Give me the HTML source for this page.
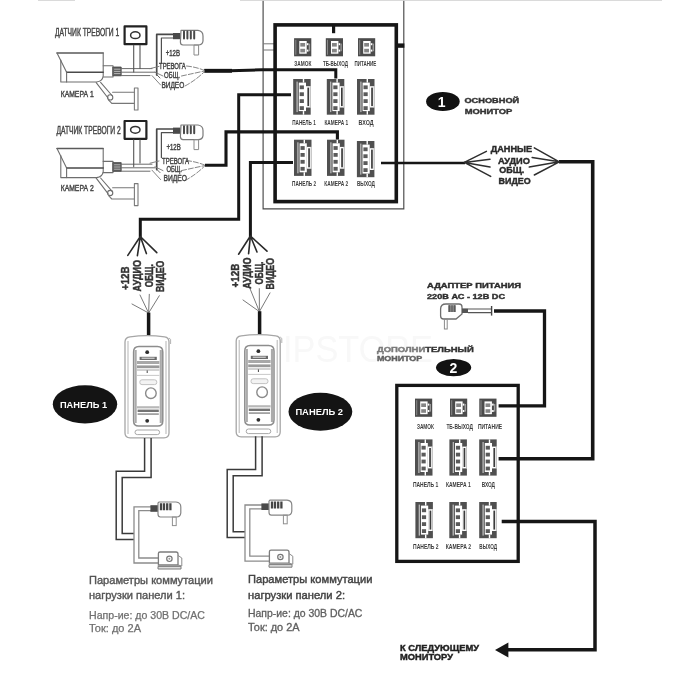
<!DOCTYPE html>
<html lang="ru"><head><meta charset="utf-8"><title>Схема подключения</title>
<style>html,body{margin:0;padding:0;background:#fff}body{width:700px;height:700px;overflow:hidden}svg{display:block;font-family:"Liberation Sans",sans-serif;filter:blur(0.55px)}</style></head><body>
<svg width="700" height="700" viewBox="0 0 700 700">
<rect width="700" height="700" fill="#fff"/>
<text x="283" y="362" font-size="36" font-weight="normal" fill="#f8f8f8" text-anchor="start" textLength="150" lengthAdjust="spacingAndGlyphs">IPSTORE</text>
<path d="M263.1 0 V208.8 H403.8 V0" fill="none" stroke="#484848" stroke-width="1.15"/>
<path d="M240 0.4 H662 M38 0.4 H75" stroke="#d6d6d6" stroke-width="1"/>
<path d="M263.1 43.8 H275 M263.1 50 H275" stroke="#777" stroke-width="1"/>
<rect x="275.1" y="24.9" width="121.2" height="176.7" fill="none" stroke="#161616" stroke-width="3.6"/>
<path d="M333.6 25 V33.2" stroke="#161616" stroke-width="3.2"/>
<path d="M396 45.6 H404.4" stroke="#161616" stroke-width="4.4"/>
<g transform="translate(294.1,38.2)">
<rect x="0" y="0" width="17.2" height="18.1" fill="#4b4b4b"/>
<rect x="1.2" y="1.6" width="1" height="14.9" fill="#8a8a8a"/>
<rect x="5.2" y="2.8" width="7.4" height="12.7" fill="#fff"/>
<rect x="6.2" y="4.8" width="4.8" height="3.6" fill="#858585"/>
<rect x="6.2" y="10.6" width="4.8" height="3.6" fill="#858585"/>
<rect x="12.8" y="5" width="1.6" height="2" fill="#fff"/>
<rect x="12.8" y="11.4" width="1.6" height="2" fill="#fff"/>
<rect x="14.6" y="5.4" width="1.4" height="7.6" fill="#9a9a9a"/>
</g>
<g transform="translate(325.8,38.2)">
<rect x="0" y="0" width="17.2" height="18.1" fill="#4b4b4b"/>
<rect x="1.2" y="1.6" width="1" height="14.9" fill="#8a8a8a"/>
<rect x="5.2" y="2.8" width="7.4" height="12.7" fill="#fff"/>
<rect x="6.2" y="4.8" width="4.8" height="3.6" fill="#858585"/>
<rect x="6.2" y="10.6" width="4.8" height="3.6" fill="#858585"/>
<rect x="12.8" y="5" width="1.6" height="2" fill="#fff"/>
<rect x="12.8" y="11.4" width="1.6" height="2" fill="#fff"/>
<rect x="14.6" y="5.4" width="1.4" height="7.6" fill="#9a9a9a"/>
</g>
<g transform="translate(358,38.2)">
<rect x="0" y="0" width="17.2" height="18.1" fill="#4b4b4b"/>
<rect x="1.2" y="1.6" width="1" height="14.9" fill="#8a8a8a"/>
<rect x="5.2" y="2.8" width="7.4" height="12.7" fill="#fff"/>
<rect x="6.2" y="4.8" width="4.8" height="3.6" fill="#858585"/>
<rect x="6.2" y="10.6" width="4.8" height="3.6" fill="#858585"/>
<rect x="12.8" y="5" width="1.6" height="2" fill="#fff"/>
<rect x="12.8" y="11.4" width="1.6" height="2" fill="#fff"/>
<rect x="14.6" y="5.4" width="1.4" height="7.6" fill="#9a9a9a"/>
</g>
<g transform="translate(293.2,79)">
<rect x="0" y="0" width="17.5" height="35.7" fill="#505050"/>
<rect x="3.3" y="2.6" width="1.2" height="30.5" fill="#c4c4c4"/>
<rect x="5.6" y="3.6" width="7.2" height="28.5" fill="#fff"/>
<rect x="6.5" y="6.4" width="4.2" height="3.8" fill="#5a5a5a"/>
<rect x="6.5" y="13.3" width="4.2" height="3.8" fill="#5a5a5a"/>
<rect x="6.5" y="20.2" width="4.2" height="3.8" fill="#5a5a5a"/>
<rect x="6.5" y="27.2" width="4.2" height="3.8" fill="#5a5a5a"/>
<rect x="9.6" y="0" width="1.4" height="3.6" fill="#fff"/>
<rect x="9.6" y="32.1" width="1.4" height="3.6" fill="#fff"/>
<rect x="12.8" y="7.2" width="4.7" height="21.3" fill="#fff"/>
<rect x="14.2" y="8.6" width="1.7" height="18.5" fill="#3c3c3c"/>
<rect x="16.6" y="7.2" width="0.9" height="21.3" fill="#bdbdbd"/>
</g>
<g transform="translate(326.8,79)">
<rect x="0" y="0" width="17.5" height="35.7" fill="#505050"/>
<rect x="3.3" y="2.6" width="1.2" height="30.5" fill="#c4c4c4"/>
<rect x="5.6" y="3.6" width="7.2" height="28.5" fill="#fff"/>
<rect x="6.5" y="6.4" width="4.2" height="3.8" fill="#5a5a5a"/>
<rect x="6.5" y="13.3" width="4.2" height="3.8" fill="#5a5a5a"/>
<rect x="6.5" y="20.2" width="4.2" height="3.8" fill="#5a5a5a"/>
<rect x="6.5" y="27.2" width="4.2" height="3.8" fill="#5a5a5a"/>
<rect x="9.6" y="0" width="1.4" height="3.6" fill="#fff"/>
<rect x="9.6" y="32.1" width="1.4" height="3.6" fill="#fff"/>
<rect x="12.8" y="7.2" width="4.7" height="21.3" fill="#fff"/>
<rect x="14.2" y="8.6" width="1.7" height="18.5" fill="#3c3c3c"/>
<rect x="16.6" y="7.2" width="0.9" height="21.3" fill="#bdbdbd"/>
</g>
<g transform="translate(357,79)">
<rect x="0" y="0" width="17.5" height="35.7" fill="#505050"/>
<rect x="3.3" y="2.6" width="1.2" height="30.5" fill="#c4c4c4"/>
<rect x="5.6" y="3.6" width="7.2" height="28.5" fill="#fff"/>
<rect x="6.5" y="6.4" width="4.2" height="3.8" fill="#5a5a5a"/>
<rect x="6.5" y="13.3" width="4.2" height="3.8" fill="#5a5a5a"/>
<rect x="6.5" y="20.2" width="4.2" height="3.8" fill="#5a5a5a"/>
<rect x="6.5" y="27.2" width="4.2" height="3.8" fill="#5a5a5a"/>
<rect x="9.6" y="0" width="1.4" height="3.6" fill="#fff"/>
<rect x="9.6" y="32.1" width="1.4" height="3.6" fill="#fff"/>
<rect x="12.8" y="7.2" width="4.7" height="21.3" fill="#fff"/>
<rect x="14.2" y="8.6" width="1.7" height="18.5" fill="#3c3c3c"/>
<rect x="16.6" y="7.2" width="0.9" height="21.3" fill="#bdbdbd"/>
</g>
<g transform="translate(294,139.7)">
<rect x="0" y="0" width="17.5" height="36.2" fill="#505050"/>
<rect x="3.3" y="2.6" width="1.2" height="31" fill="#c4c4c4"/>
<rect x="5.6" y="3.6" width="7.2" height="29" fill="#fff"/>
<rect x="6.5" y="6.4" width="4.2" height="3.8" fill="#5a5a5a"/>
<rect x="6.5" y="13.3" width="4.2" height="3.8" fill="#5a5a5a"/>
<rect x="6.5" y="20.2" width="4.2" height="3.8" fill="#5a5a5a"/>
<rect x="6.5" y="27.2" width="4.2" height="3.8" fill="#5a5a5a"/>
<rect x="9.6" y="0" width="1.4" height="3.6" fill="#fff"/>
<rect x="9.6" y="32.6" width="1.4" height="3.6" fill="#fff"/>
<rect x="12.8" y="7.2" width="4.7" height="21.8" fill="#fff"/>
<rect x="14.2" y="8.6" width="1.7" height="19" fill="#3c3c3c"/>
<rect x="16.6" y="7.2" width="0.9" height="21.8" fill="#bdbdbd"/>
</g>
<g transform="translate(327,139.7)">
<rect x="0" y="0" width="17.5" height="36.2" fill="#505050"/>
<rect x="3.3" y="2.6" width="1.2" height="31" fill="#c4c4c4"/>
<rect x="5.6" y="3.6" width="7.2" height="29" fill="#fff"/>
<rect x="6.5" y="6.4" width="4.2" height="3.8" fill="#5a5a5a"/>
<rect x="6.5" y="13.3" width="4.2" height="3.8" fill="#5a5a5a"/>
<rect x="6.5" y="20.2" width="4.2" height="3.8" fill="#5a5a5a"/>
<rect x="6.5" y="27.2" width="4.2" height="3.8" fill="#5a5a5a"/>
<rect x="9.6" y="0" width="1.4" height="3.6" fill="#fff"/>
<rect x="9.6" y="32.6" width="1.4" height="3.6" fill="#fff"/>
<rect x="12.8" y="7.2" width="4.7" height="21.8" fill="#fff"/>
<rect x="14.2" y="8.6" width="1.7" height="19" fill="#3c3c3c"/>
<rect x="16.6" y="7.2" width="0.9" height="21.8" fill="#bdbdbd"/>
</g>
<g transform="translate(356.9,141)">
<rect x="0" y="0" width="17.5" height="36.2" fill="#505050"/>
<rect x="3.3" y="2.6" width="1.2" height="31" fill="#c4c4c4"/>
<rect x="5.6" y="3.6" width="7.2" height="29" fill="#fff"/>
<rect x="6.5" y="6.4" width="4.2" height="3.8" fill="#5a5a5a"/>
<rect x="6.5" y="13.3" width="4.2" height="3.8" fill="#5a5a5a"/>
<rect x="6.5" y="20.2" width="4.2" height="3.8" fill="#5a5a5a"/>
<rect x="6.5" y="27.2" width="4.2" height="3.8" fill="#5a5a5a"/>
<rect x="9.6" y="0" width="1.4" height="3.6" fill="#fff"/>
<rect x="9.6" y="32.6" width="1.4" height="3.6" fill="#fff"/>
<rect x="12.8" y="7.2" width="4.7" height="21.8" fill="#fff"/>
<rect x="14.2" y="8.6" width="1.7" height="19" fill="#3c3c3c"/>
<rect x="16.6" y="7.2" width="0.9" height="21.8" fill="#bdbdbd"/>
</g>
<text x="294.3" y="65.7" font-size="8" font-weight="bold" fill="#3c3c3c" text-anchor="start" textLength="17.1" lengthAdjust="spacingAndGlyphs">ЗАМОК</text>
<text x="322.9" y="65.7" font-size="8" font-weight="bold" fill="#3c3c3c" text-anchor="start" textLength="25.0" lengthAdjust="spacingAndGlyphs">ТБ-ВЫХОД</text>
<text x="354.6" y="65.7" font-size="8" font-weight="bold" fill="#3c3c3c" text-anchor="start" textLength="21.8" lengthAdjust="spacingAndGlyphs">ПИТАНИЕ</text>
<text x="292.3" y="125.2" font-size="8" font-weight="bold" fill="#3c3c3c" text-anchor="start" textLength="23.5" lengthAdjust="spacingAndGlyphs">ПАНЕЛЬ 1</text>
<text x="324.4" y="125.2" font-size="8" font-weight="bold" fill="#3c3c3c" text-anchor="start" textLength="23.8" lengthAdjust="spacingAndGlyphs">КАМЕРА 1</text>
<text x="358.6" y="125.1" font-size="8" font-weight="bold" fill="#3c3c3c" text-anchor="start" textLength="15.0" lengthAdjust="spacingAndGlyphs">ВХОД</text>
<text x="292.1" y="186.2" font-size="8" font-weight="bold" fill="#3c3c3c" text-anchor="start" textLength="23.9" lengthAdjust="spacingAndGlyphs">ПАНЕЛЬ 2</text>
<text x="324.3" y="186.2" font-size="8" font-weight="bold" fill="#3c3c3c" text-anchor="start" textLength="23.9" lengthAdjust="spacingAndGlyphs">КАМЕРА 2</text>
<text x="356.9" y="186.4" font-size="8" font-weight="bold" fill="#3c3c3c" text-anchor="start" textLength="18.1" lengthAdjust="spacingAndGlyphs">ВЫХОД</text>
<path d="M204.3 70.8 H230 L262 69.8 H335.8 V78.6" fill="none" stroke="#161616" stroke-linejoin="miter" stroke-width="3.0"/>
<path d="M204.3 70.8 H232" fill="none" stroke="#161616" stroke-linejoin="miter" stroke-width="3.9"/>
<path d="M205 165.2 H226 V131.9 H337.4 V139.6" fill="none" stroke="#161616" stroke-linejoin="miter" stroke-width="3.1"/>
<path d="M291 94.8 H238.7 V219.2 H140.3 V237" fill="none" stroke="#161616" stroke-linejoin="miter" stroke-width="3.0"/>
<path d="M293 162.5 H250.4 V237" fill="none" stroke="#161616" stroke-linejoin="miter" stroke-width="3.0"/>
<path d="M381 163 H465" fill="none" stroke="#161616" stroke-linejoin="miter" stroke-width="2.6"/>
<path d="M559 161.8 H592.7 V458.8 H498.6" fill="none" stroke="#161616" stroke-linejoin="miter" stroke-width="3.6"/>
<path d="M494 311 H544.5 V405.8 H498.6" fill="none" stroke="#161616" stroke-linejoin="miter" stroke-width="3.3"/>
<path d="M501.7 521.4 H595 V649.8 H506" fill="none" stroke="#161616" stroke-linejoin="miter" stroke-width="3.5"/>
<path d="M495 650 L508.4 642.6 V657.4 Z" fill="#161616"/>
<path d="M140.3 236.5 L127.8 255.4 M140.3 236.5 L137.4 255.6 M140.3 236.5 L146.4 253.6 M140.3 236.5 L156.8 252.6" stroke="#2a2a2a" stroke-width="1.6" fill="none" stroke-linecap="round"/>
<path d="M250.4 236 L238.6 254.2 M250.4 236 L248.6 253.6 M250.4 236 L257 252 M250.4 236 L267 251.2" stroke="#2a2a2a" stroke-width="1.6" fill="none" stroke-linecap="round"/>
<path d="M148.6 313 L132 304 M148.6 313 L140 295 M148.6 313 L149.3 294.3 M148.6 313 L159.3 295.7" stroke="#7a7a7a" stroke-width="1" fill="none" stroke-linecap="round"/>
<path d="M259.4 311.6 L243 300 M259.4 311.6 L250 288.6 M259.4 311.6 L259.3 288.6 M259.4 311.6 L270 292.9" stroke="#7a7a7a" stroke-width="1" fill="none" stroke-linecap="round"/>
<path d="M148.6 312.6 V336.5" fill="none" stroke="#161616" stroke-linejoin="miter" stroke-width="3.5"/>
<path d="M259.6 311.2 V335.5" fill="none" stroke="#161616" stroke-linejoin="miter" stroke-width="3.5"/>
<text transform="translate(129.2,290) rotate(-90)" font-size="10.5" font-weight="bold" fill="#333" stroke="#333" stroke-width="0.45" textLength="23.6" lengthAdjust="spacingAndGlyphs">+12В</text>
<text transform="translate(140.6,291.4) rotate(-90)" font-size="10.5" font-weight="bold" fill="#333" stroke="#333" stroke-width="0.45" textLength="31.4" lengthAdjust="spacingAndGlyphs">АУДИО</text>
<text transform="translate(152.8,287.2) rotate(-90)" font-size="10.5" font-weight="bold" fill="#333" stroke="#333" stroke-width="0.45" textLength="23" lengthAdjust="spacingAndGlyphs">ОБЩ.</text>
<text transform="translate(164.4,292) rotate(-90)" font-size="10.5" font-weight="bold" fill="#333" stroke="#333" stroke-width="0.45" textLength="31.3" lengthAdjust="spacingAndGlyphs">ВИДЕО</text>
<text transform="translate(239.2,287.4) rotate(-90)" font-size="10.5" font-weight="bold" fill="#333" stroke="#333" stroke-width="0.45" textLength="23.6" lengthAdjust="spacingAndGlyphs">+12В</text>
<text transform="translate(250.6,288.8) rotate(-90)" font-size="10.5" font-weight="bold" fill="#333" stroke="#333" stroke-width="0.45" textLength="31.4" lengthAdjust="spacingAndGlyphs">АУДИО</text>
<text transform="translate(262.8,284.6) rotate(-90)" font-size="10.5" font-weight="bold" fill="#333" stroke="#333" stroke-width="0.45" textLength="23" lengthAdjust="spacingAndGlyphs">ОБЩ.</text>
<text transform="translate(274.4,289.4) rotate(-90)" font-size="10.5" font-weight="bold" fill="#333" stroke="#333" stroke-width="0.45" textLength="31.3" lengthAdjust="spacingAndGlyphs">ВИДЕО</text>
<path d="M464.3 162.4 L486.4 151.4 M464.3 162.4 L490 159.3 M464.3 162.4 L490 167.1 M464.3 162.4 L490.7 176.4" stroke="#2e2e2e" stroke-width="1.5" fill="none" stroke-linecap="round"/>
<path d="M559.3 161.8 L534.3 147.9 M559.3 161.8 L532.1 157.4 M559.3 161.8 L529.3 167.1 M559.3 161.8 L534.3 175" stroke="#2e2e2e" stroke-width="1.5" fill="none" stroke-linecap="round"/>
<text x="490.7" y="151.5" font-size="8.4" font-weight="bold" fill="#2a2a2a" text-anchor="start" textLength="41.4" lengthAdjust="spacingAndGlyphs" stroke="#2a2a2a" stroke-width="0.4">ДАННЫЕ</text>
<text x="497.9" y="163.7" font-size="8.4" font-weight="bold" fill="#2a2a2a" text-anchor="start" textLength="32.1" lengthAdjust="spacingAndGlyphs" stroke="#2a2a2a" stroke-width="0.4">АУДИО</text>
<text x="499.3" y="173" font-size="8.4" font-weight="bold" fill="#2a2a2a" text-anchor="start" textLength="25" lengthAdjust="spacingAndGlyphs" stroke="#2a2a2a" stroke-width="0.4">ОБЩ.</text>
<text x="498.6" y="183.7" font-size="8.4" font-weight="bold" fill="#2a2a2a" text-anchor="start" textLength="32.1" lengthAdjust="spacingAndGlyphs" stroke="#2a2a2a" stroke-width="0.4">ВИДЕО</text>
<ellipse cx="442.9" cy="101.5" rx="16.8" ry="9.5" fill="#121212"/>
<text x="441.6" y="106.6" font-size="14" font-weight="bold" fill="#fff" text-anchor="middle">1</text>
<text x="464.4" y="103.2" font-size="7.8" font-weight="bold" fill="#333" text-anchor="start" textLength="54.8" lengthAdjust="spacingAndGlyphs" stroke="#333" stroke-width="0.4">ОСНОВНОЙ</text>
<text x="464.7" y="114.3" font-size="7.8" font-weight="bold" fill="#333" text-anchor="start" textLength="47.7" lengthAdjust="spacingAndGlyphs" stroke="#333" stroke-width="0.4">МОНИТОР</text>
<text x="427" y="288.2" font-size="7.6" font-weight="bold" fill="#2e2e2e" text-anchor="start" textLength="94" lengthAdjust="spacingAndGlyphs" stroke="#2e2e2e" stroke-width="0.4">АДАПТЕР  ПИТАНИЯ</text>
<text x="427" y="298.8" font-size="7.6" font-weight="bold" fill="#2e2e2e" text-anchor="start" textLength="78" lengthAdjust="spacingAndGlyphs" stroke="#2e2e2e" stroke-width="0.4">220В АС - 12В DC</text>
<g fill="none">
<path d="M446 304 H459 Q462 304 462 307 V314 L456 319 H443.6 Q440.6 319 440.6 316 V309 Q440.6 304 446 304 Z" stroke="#6e6e6e" stroke-width="1.3" fill="#fff"/>
<rect x="448" y="305.2" width="8" height="6.8" fill="#8a8a8a"/>
<path d="M449.6 305.2 V312 M452 305.2 V312 M454.4 305.2 V312" stroke="#555" stroke-width="1"/>
<rect x="444.4" y="319" width="2.8" height="10" stroke="#8a8a8a" stroke-width="1"/>
<rect x="462" y="308.4" width="6" height="4.6" fill="#555"/>
<path d="M468 309 H492 M468 312.6 H492" stroke="#555" stroke-width="1.1"/>
<path d="M491.6 306 V315.6" stroke="#444" stroke-width="1.4"/>
</g>
<text x="376.9" y="352.2" font-size="7.8" font-weight="bold" fill="#505050" text-anchor="start" textLength="96.8" lengthAdjust="spacingAndGlyphs" stroke="#505050" stroke-width="0.4"><tspan fill="#7a7a7a" stroke="#7a7a7a">ДОПОЛНИ</tspan><tspan fill="#333" stroke="#333">ТЕЛЬНЫЙ</tspan></text>
<text x="376.9" y="360.8" font-size="7.8" font-weight="bold" fill="#606060" text-anchor="start" textLength="45.4" lengthAdjust="spacingAndGlyphs" stroke="#606060" stroke-width="0.4">МОНИТОР</text>
<ellipse cx="453.6" cy="367.6" rx="17.6" ry="8.7" fill="#121212"/>
<text x="453.4" y="372.6" font-size="14" font-weight="bold" fill="#fff" text-anchor="middle">2</text>
<rect x="396.8" y="385.4" width="121.4" height="176" fill="none" stroke="#161616" stroke-width="3.3"/>
<g transform="translate(415,398.6)">
<rect x="0" y="0" width="17.2" height="18.2" fill="#4b4b4b"/>
<rect x="1.2" y="1.6" width="1" height="15.0" fill="#8a8a8a"/>
<rect x="5.2" y="2.8" width="7.4" height="12.8" fill="#fff"/>
<rect x="6.2" y="4.8" width="4.8" height="3.6" fill="#858585"/>
<rect x="6.2" y="10.6" width="4.8" height="3.6" fill="#858585"/>
<rect x="12.8" y="5" width="1.6" height="2" fill="#fff"/>
<rect x="12.8" y="11.4" width="1.6" height="2" fill="#fff"/>
<rect x="14.6" y="5.4" width="1.4" height="7.6" fill="#9a9a9a"/>
</g>
<g transform="translate(450,398.6)">
<rect x="0" y="0" width="17.2" height="18.2" fill="#4b4b4b"/>
<rect x="1.2" y="1.6" width="1" height="15.0" fill="#8a8a8a"/>
<rect x="5.2" y="2.8" width="7.4" height="12.8" fill="#fff"/>
<rect x="6.2" y="4.8" width="4.8" height="3.6" fill="#858585"/>
<rect x="6.2" y="10.6" width="4.8" height="3.6" fill="#858585"/>
<rect x="12.8" y="5" width="1.6" height="2" fill="#fff"/>
<rect x="12.8" y="11.4" width="1.6" height="2" fill="#fff"/>
<rect x="14.6" y="5.4" width="1.4" height="7.6" fill="#9a9a9a"/>
</g>
<g transform="translate(479.3,398.6)">
<rect x="0" y="0" width="17.2" height="18.2" fill="#4b4b4b"/>
<rect x="1.2" y="1.6" width="1" height="15.0" fill="#8a8a8a"/>
<rect x="5.2" y="2.8" width="7.4" height="12.8" fill="#fff"/>
<rect x="6.2" y="4.8" width="4.8" height="3.6" fill="#858585"/>
<rect x="6.2" y="10.6" width="4.8" height="3.6" fill="#858585"/>
<rect x="12.8" y="5" width="1.6" height="2" fill="#fff"/>
<rect x="12.8" y="11.4" width="1.6" height="2" fill="#fff"/>
<rect x="14.6" y="5.4" width="1.4" height="7.6" fill="#9a9a9a"/>
</g>
<g transform="translate(415,439.4)">
<rect x="0" y="0" width="17.5" height="36.2" fill="#505050"/>
<rect x="3.3" y="2.6" width="1.2" height="31" fill="#c4c4c4"/>
<rect x="5.6" y="3.6" width="7.2" height="29" fill="#fff"/>
<rect x="6.5" y="6.4" width="4.2" height="3.8" fill="#5a5a5a"/>
<rect x="6.5" y="13.3" width="4.2" height="3.8" fill="#5a5a5a"/>
<rect x="6.5" y="20.2" width="4.2" height="3.8" fill="#5a5a5a"/>
<rect x="6.5" y="27.2" width="4.2" height="3.8" fill="#5a5a5a"/>
<rect x="9.6" y="0" width="1.4" height="3.6" fill="#fff"/>
<rect x="9.6" y="32.6" width="1.4" height="3.6" fill="#fff"/>
<rect x="12.8" y="7.2" width="4.7" height="21.8" fill="#fff"/>
<rect x="14.2" y="8.6" width="1.7" height="19" fill="#3c3c3c"/>
<rect x="16.6" y="7.2" width="0.9" height="21.8" fill="#bdbdbd"/>
</g>
<g transform="translate(449.4,439.4)">
<rect x="0" y="0" width="17.5" height="36.2" fill="#505050"/>
<rect x="3.3" y="2.6" width="1.2" height="31" fill="#c4c4c4"/>
<rect x="5.6" y="3.6" width="7.2" height="29" fill="#fff"/>
<rect x="6.5" y="6.4" width="4.2" height="3.8" fill="#5a5a5a"/>
<rect x="6.5" y="13.3" width="4.2" height="3.8" fill="#5a5a5a"/>
<rect x="6.5" y="20.2" width="4.2" height="3.8" fill="#5a5a5a"/>
<rect x="6.5" y="27.2" width="4.2" height="3.8" fill="#5a5a5a"/>
<rect x="9.6" y="0" width="1.4" height="3.6" fill="#fff"/>
<rect x="9.6" y="32.6" width="1.4" height="3.6" fill="#fff"/>
<rect x="12.8" y="7.2" width="4.7" height="21.8" fill="#fff"/>
<rect x="14.2" y="8.6" width="1.7" height="19" fill="#3c3c3c"/>
<rect x="16.6" y="7.2" width="0.9" height="21.8" fill="#bdbdbd"/>
</g>
<g transform="translate(479.2,439.4)">
<rect x="0" y="0" width="17.5" height="36.2" fill="#505050"/>
<rect x="3.3" y="2.6" width="1.2" height="31" fill="#c4c4c4"/>
<rect x="5.6" y="3.6" width="7.2" height="29" fill="#fff"/>
<rect x="6.5" y="6.4" width="4.2" height="3.8" fill="#5a5a5a"/>
<rect x="6.5" y="13.3" width="4.2" height="3.8" fill="#5a5a5a"/>
<rect x="6.5" y="20.2" width="4.2" height="3.8" fill="#5a5a5a"/>
<rect x="6.5" y="27.2" width="4.2" height="3.8" fill="#5a5a5a"/>
<rect x="9.6" y="0" width="1.4" height="3.6" fill="#fff"/>
<rect x="9.6" y="32.6" width="1.4" height="3.6" fill="#fff"/>
<rect x="12.8" y="7.2" width="4.7" height="21.8" fill="#fff"/>
<rect x="14.2" y="8.6" width="1.7" height="19" fill="#3c3c3c"/>
<rect x="16.6" y="7.2" width="0.9" height="21.8" fill="#bdbdbd"/>
</g>
<g transform="translate(415.4,502)">
<rect x="0" y="0" width="17.5" height="36.2" fill="#505050"/>
<rect x="3.3" y="2.6" width="1.2" height="31" fill="#c4c4c4"/>
<rect x="5.6" y="3.6" width="7.2" height="29" fill="#fff"/>
<rect x="6.5" y="6.4" width="4.2" height="3.8" fill="#5a5a5a"/>
<rect x="6.5" y="13.3" width="4.2" height="3.8" fill="#5a5a5a"/>
<rect x="6.5" y="20.2" width="4.2" height="3.8" fill="#5a5a5a"/>
<rect x="6.5" y="27.2" width="4.2" height="3.8" fill="#5a5a5a"/>
<rect x="9.6" y="0" width="1.4" height="3.6" fill="#fff"/>
<rect x="9.6" y="32.6" width="1.4" height="3.6" fill="#fff"/>
<rect x="12.8" y="7.2" width="4.7" height="21.8" fill="#fff"/>
<rect x="14.2" y="8.6" width="1.7" height="19" fill="#3c3c3c"/>
<rect x="16.6" y="7.2" width="0.9" height="21.8" fill="#bdbdbd"/>
</g>
<g transform="translate(449.3,502)">
<rect x="0" y="0" width="17.5" height="36.2" fill="#505050"/>
<rect x="3.3" y="2.6" width="1.2" height="31" fill="#c4c4c4"/>
<rect x="5.6" y="3.6" width="7.2" height="29" fill="#fff"/>
<rect x="6.5" y="6.4" width="4.2" height="3.8" fill="#5a5a5a"/>
<rect x="6.5" y="13.3" width="4.2" height="3.8" fill="#5a5a5a"/>
<rect x="6.5" y="20.2" width="4.2" height="3.8" fill="#5a5a5a"/>
<rect x="6.5" y="27.2" width="4.2" height="3.8" fill="#5a5a5a"/>
<rect x="9.6" y="0" width="1.4" height="3.6" fill="#fff"/>
<rect x="9.6" y="32.6" width="1.4" height="3.6" fill="#fff"/>
<rect x="12.8" y="7.2" width="4.7" height="21.8" fill="#fff"/>
<rect x="14.2" y="8.6" width="1.7" height="19" fill="#3c3c3c"/>
<rect x="16.6" y="7.2" width="0.9" height="21.8" fill="#bdbdbd"/>
</g>
<g transform="translate(479.2,502)">
<rect x="0" y="0" width="17.5" height="36.2" fill="#505050"/>
<rect x="3.3" y="2.6" width="1.2" height="31" fill="#c4c4c4"/>
<rect x="5.6" y="3.6" width="7.2" height="29" fill="#fff"/>
<rect x="6.5" y="6.4" width="4.2" height="3.8" fill="#5a5a5a"/>
<rect x="6.5" y="13.3" width="4.2" height="3.8" fill="#5a5a5a"/>
<rect x="6.5" y="20.2" width="4.2" height="3.8" fill="#5a5a5a"/>
<rect x="6.5" y="27.2" width="4.2" height="3.8" fill="#5a5a5a"/>
<rect x="9.6" y="0" width="1.4" height="3.6" fill="#fff"/>
<rect x="9.6" y="32.6" width="1.4" height="3.6" fill="#fff"/>
<rect x="12.8" y="7.2" width="4.7" height="21.8" fill="#fff"/>
<rect x="14.2" y="8.6" width="1.7" height="19" fill="#3c3c3c"/>
<rect x="16.6" y="7.2" width="0.9" height="21.8" fill="#bdbdbd"/>
</g>
<text x="416.9" y="428.6" font-size="8" font-weight="bold" fill="#3c3c3c" text-anchor="start" textLength="17.1" lengthAdjust="spacingAndGlyphs">ЗАМОК</text>
<text x="446.4" y="428.6" font-size="8" font-weight="bold" fill="#3c3c3c" text-anchor="start" textLength="26.5" lengthAdjust="spacingAndGlyphs">ТБ-ВЫХОД</text>
<text x="477.9" y="428.6" font-size="8" font-weight="bold" fill="#3c3c3c" text-anchor="start" textLength="24.2" lengthAdjust="spacingAndGlyphs">ПИТАНИЕ</text>
<text x="412.9" y="487.4" font-size="8" font-weight="bold" fill="#3c3c3c" text-anchor="start" textLength="25.4" lengthAdjust="spacingAndGlyphs">ПАНЕЛЬ 1</text>
<text x="446" y="487.4" font-size="8" font-weight="bold" fill="#3c3c3c" text-anchor="start" textLength="24.7" lengthAdjust="spacingAndGlyphs">КАМЕРА 1</text>
<text x="481.7" y="487.2" font-size="8" font-weight="bold" fill="#3c3c3c" text-anchor="start" textLength="13.3" lengthAdjust="spacingAndGlyphs">ВХОД</text>
<text x="413.1" y="548.8" font-size="8" font-weight="bold" fill="#3c3c3c" text-anchor="start" textLength="25.5" lengthAdjust="spacingAndGlyphs">ПАНЕЛЬ 2</text>
<text x="445.7" y="548.8" font-size="8" font-weight="bold" fill="#3c3c3c" text-anchor="start" textLength="25.4" lengthAdjust="spacingAndGlyphs">КАМЕРА 2</text>
<text x="479.3" y="548.8" font-size="8" font-weight="bold" fill="#3c3c3c" text-anchor="start" textLength="17.8" lengthAdjust="spacingAndGlyphs">ВЫХОД</text>
<text x="400" y="650.5" font-size="8.4" font-weight="bold" fill="#222" text-anchor="start" textLength="79" lengthAdjust="spacingAndGlyphs" stroke="#222" stroke-width="0.4">К СЛЕДУЮЩЕМУ</text>
<text x="400" y="660.3" font-size="8.4" font-weight="bold" fill="#222" text-anchor="start" textLength="53" lengthAdjust="spacingAndGlyphs" stroke="#222" stroke-width="0.4">МОНИТОРУ</text>
<g transform="translate(0,0)" fill="none" stroke="#6e6e6e" stroke-width="1.1" stroke-linecap="round" stroke-linejoin="round">
<path d="M57 53 L103.2 53" stroke="#5a5a5a" stroke-width="1.5"/>
<path d="M57 53 L66.6 72.3"/>
<path d="M60.8 60 L60.8 82 L96.5 82 Q102.6 81.2 103.2 76 L103.2 53"/>
<path d="M66.6 72.3 L103.2 72.3" stroke="#4a4a4a" stroke-width="1.5"/>
<path d="M66.6 72.3 L66.6 82"/>
<path d="M103.2 65.8 L113 65.8 L113 77 L103.2 77"/>
<rect x="113.2" y="67" width="8" height="8.8" fill="#5c5c5c" stroke="#444" stroke-width="0.8"/>
<path d="M114.5 69.2 H120 M114.5 71.4 H120 M114.5 73.6 H120" stroke="#cfcfcf" stroke-width="0.8"/>
<path d="M121.4 68.6 H152 M121.4 72.2 H155 M121.4 75.6 H150" stroke="#6a6a6a" stroke-width="1"/>
<path d="M96.2 82.6 L108 98 M100.6 82.4 L112 95.5" />
<circle cx="110.2" cy="97.4" r="2.6"/>
<path d="M112.6 92.2 H134.2 M111.8 103.4 H134.2 M108.6 100 L111.8 103.4" stroke="#777"/>
<rect x="134.4" y="88" width="3.6" height="22" stroke="#7a7a7a"/>
</g>
<g transform="translate(0,0)" fill="none" stroke="#6e6e6e" stroke-width="1.1" stroke-linecap="round" stroke-linejoin="round">
<rect x="124.6" y="26.4" width="21.8" height="17.8" stroke="#222" stroke-width="2.2"/>
<ellipse cx="135.3" cy="35.2" rx="4.7" ry="3.4" stroke="#333" stroke-width="1.5"/>
<path d="M133.7 45.2 V72 M140 45.2 V68.4" stroke="#555" stroke-width="1.1"/>
<path d="M156.7 75 V34.4 H173.5" stroke="#484848" stroke-width="1.7"/>
<path d="M161.4 63 V38 H173.5" stroke="#505050" stroke-width="1.2"/>
<rect x="173" y="33" width="7.4" height="6.2" fill="#4a4a4a" stroke="none"/>
<path d="M181 30.4 H198 Q203 31 203 36 V41 Q202.6 45 198 45 H183 Q180.4 45 180.4 42 Z" stroke="#7a7a7a" stroke-width="1.2" fill="#fff"/>
<path d="M184 31.6 V38.6 M187.4 31.6 V38.6 M190.8 31.6 V38.6 M194.2 31.6 V38.6" stroke="#4a4a4a" stroke-width="2"/>
<rect x="194.4" y="45" width="4.2" height="10" stroke="#8a8a8a" stroke-width="1"/>
<path d="M150 68.6 L159 66.4 M152 75.6 L160.6 85 M155 72.2 L163 76" stroke="#777" stroke-width="0.9"/>
<path d="M156.5 74.5 L160 78" stroke="#555" stroke-width="0.9"/>
<path d="M186.5 66 Q196 67 204.5 70.4 M181.5 76 Q193 73.5 204.5 71 M185 86 Q196 80 204.5 71.6" stroke="#777" stroke-width="0.9" stroke-dasharray="5 2"/>
</g>
<g transform="translate(0,95.6)" fill="none" stroke="#6e6e6e" stroke-width="1.1" stroke-linecap="round" stroke-linejoin="round">
<path d="M57 53 L103.2 53" stroke="#5a5a5a" stroke-width="1.5"/>
<path d="M57 53 L66.6 72.3"/>
<path d="M60.8 60 L60.8 82 L96.5 82 Q102.6 81.2 103.2 76 L103.2 53"/>
<path d="M66.6 72.3 L103.2 72.3" stroke="#4a4a4a" stroke-width="1.5"/>
<path d="M66.6 72.3 L66.6 82"/>
<path d="M103.2 65.8 L113 65.8 L113 77 L103.2 77"/>
<rect x="113.2" y="67" width="8" height="8.8" fill="#5c5c5c" stroke="#444" stroke-width="0.8"/>
<path d="M114.5 69.2 H120 M114.5 71.4 H120 M114.5 73.6 H120" stroke="#cfcfcf" stroke-width="0.8"/>
<path d="M121.4 68.6 H152 M121.4 72.2 H155 M121.4 75.6 H150" stroke="#6a6a6a" stroke-width="1"/>
<path d="M96.2 82.6 L108 98 M100.6 82.4 L112 95.5" />
<circle cx="110.2" cy="97.4" r="2.6"/>
<path d="M112.6 92.2 H134.2 M111.8 103.4 H134.2 M108.6 100 L111.8 103.4" stroke="#777"/>
<rect x="134.4" y="88" width="3.6" height="22" stroke="#7a7a7a"/>
</g>
<g transform="translate(0,94.6)" fill="none" stroke="#6e6e6e" stroke-width="1.1" stroke-linecap="round" stroke-linejoin="round">
<rect x="124.6" y="26.4" width="21.8" height="17.8" stroke="#222" stroke-width="2.2"/>
<ellipse cx="135.3" cy="35.2" rx="4.7" ry="3.4" stroke="#333" stroke-width="1.5"/>
<path d="M133.7 45.2 V72 M140 45.2 V68.4" stroke="#555" stroke-width="1.1"/>
<path d="M156.7 75 V34.4 H173.5" stroke="#484848" stroke-width="1.7"/>
<path d="M161.4 63 V38 H173.5" stroke="#505050" stroke-width="1.2"/>
<rect x="173" y="33" width="7.4" height="6.2" fill="#4a4a4a" stroke="none"/>
<path d="M181 30.4 H198 Q203 31 203 36 V41 Q202.6 45 198 45 H183 Q180.4 45 180.4 42 Z" stroke="#7a7a7a" stroke-width="1.2" fill="#fff"/>
<path d="M184 31.6 V38.6 M187.4 31.6 V38.6 M190.8 31.6 V38.6 M194.2 31.6 V38.6" stroke="#4a4a4a" stroke-width="2"/>
<rect x="194.4" y="45" width="4.2" height="10" stroke="#8a8a8a" stroke-width="1"/>
<path d="M150 68.6 L159 66.4 M152 75.6 L160.6 85 M155 72.2 L163 76" stroke="#777" stroke-width="0.9"/>
<path d="M156.5 74.5 L160 78" stroke="#555" stroke-width="0.9"/>
<path d="M186.5 66 Q196 67 204.5 70.4 M181.5 76 Q193 73.5 204.5 71 M185 86 Q196 80 204.5 71.6" stroke="#777" stroke-width="0.9" stroke-dasharray="5 2"/>
</g>
<text x="55" y="36.4" font-size="10" font-weight="normal" fill="#444" text-anchor="start" textLength="64.3" lengthAdjust="spacingAndGlyphs" stroke="#444" stroke-width="0.42">ДАТЧИК ТРЕВОГИ 1</text>
<text x="56.4" y="133.7" font-size="10" font-weight="normal" fill="#444" text-anchor="start" textLength="64.3" lengthAdjust="spacingAndGlyphs" stroke="#444" stroke-width="0.42">ДАТЧИК ТРЕВОГИ 2</text>
<text x="60.7" y="97.2" font-size="9" font-weight="normal" fill="#444" text-anchor="start" textLength="33" lengthAdjust="spacingAndGlyphs" stroke="#444" stroke-width="0.42">КАМЕРА 1</text>
<text x="60.7" y="190.8" font-size="9" font-weight="normal" fill="#444" text-anchor="start" textLength="33" lengthAdjust="spacingAndGlyphs" stroke="#444" stroke-width="0.42">КАМЕРА 2</text>
<text x="165.7" y="56.4" font-size="8.6" font-weight="normal" fill="#444" text-anchor="start" textLength="14.3" lengthAdjust="spacingAndGlyphs" stroke="#444" stroke-width="0.42">+12В</text>
<text x="159" y="69.3" font-size="8.6" font-weight="normal" fill="#444" text-anchor="start" textLength="26.7" lengthAdjust="spacingAndGlyphs" stroke="#444" stroke-width="0.42">ТРЕВОГА</text>
<text x="164" y="78.4" font-size="8.6" font-weight="normal" fill="#444" text-anchor="start" textLength="16" lengthAdjust="spacingAndGlyphs" stroke="#444" stroke-width="0.42">ОБЩ.</text>
<text x="161.4" y="88.2" font-size="8.6" font-weight="normal" fill="#444" text-anchor="start" textLength="22.9" lengthAdjust="spacingAndGlyphs" stroke="#444" stroke-width="0.42">ВИДЕО</text>
<text x="166.4" y="150" font-size="8.6" font-weight="normal" fill="#444" text-anchor="start" textLength="14.3" lengthAdjust="spacingAndGlyphs" stroke="#444" stroke-width="0.42">+12В</text>
<text x="162" y="163.6" font-size="8.6" font-weight="normal" fill="#444" text-anchor="start" textLength="27" lengthAdjust="spacingAndGlyphs" stroke="#444" stroke-width="0.42">ТРЕВОГА</text>
<text x="166.4" y="172" font-size="8.6" font-weight="normal" fill="#444" text-anchor="start" textLength="15.6" lengthAdjust="spacingAndGlyphs" stroke="#444" stroke-width="0.42">ОБЩ.</text>
<text x="163.6" y="181.3" font-size="8.6" font-weight="normal" fill="#444" text-anchor="start" textLength="23.4" lengthAdjust="spacingAndGlyphs" stroke="#444" stroke-width="0.42">ВИДЕО</text>
<g transform="translate(0,0)" fill="none" stroke-linejoin="round">
<path d="M125 342 Q125 337.4 130 336.8 Q147 334.6 164.6 336.8 Q169 337.4 169 342 V433 Q169 437.8 164 437.8 H130 Q125 437.8 125 433 Z" stroke="#a6a6a6" stroke-width="1.3" fill="#fff"/>
<path d="M128 341 V434 M166 341 V434" stroke="#b5b5b5" stroke-width="1"/>
<path d="M169 338 L170.6 339.4 V344" stroke="#aaa" stroke-width="0.9"/>
<path d="M133.6 352 Q133.6 346.6 139 346.6 H157.4 Q162.8 346.6 162.8 352 V421 Q162.8 426 157.8 426 H138.6 Q133.6 426 133.6 421 Z" stroke="#8d8d8d" stroke-width="1.5"/>
<path d="M135.6 350 V423 M160.8 350 V423" stroke="#ababab" stroke-width="2.2"/>
<circle cx="147.2" cy="352.2" r="1.9" fill="#2e2e2e"/>
<circle cx="147.2" cy="420.8" r="1.9" fill="#2e2e2e"/>
<rect x="139.6" y="356.8" width="17.2" height="3.2" fill="#6a6a6a"/>
<rect x="141.6" y="357.6" width="13" height="1.2" fill="#d5d5d5"/>
<rect x="137" y="361" width="22.4" height="3" fill="#a8a8a8"/>
<rect x="137" y="365.4" width="22.4" height="2.8" fill="#9a9a9a"/>
<path d="M137 370 H159.4" stroke="#b5b5b5" stroke-width="1.2"/>
<path d="M147.2 370.4 V373" stroke="#444" stroke-width="1"/>
<path d="M137 375.4 H159.4" stroke="#c9c9c9" stroke-width="1"/>
<rect x="139.8" y="379.8" width="17" height="4.8" rx="2.2" stroke="#c2c2c2" stroke-width="1" fill="#f3f3f3"/>
<circle cx="150.9" cy="393.2" r="5.3" stroke="#8a8a8a" stroke-width="1.4"/>
<rect x="137" y="406.2" width="22.4" height="2.2" fill="#b8b8b8"/>
<rect x="137.6" y="409.6" width="21.2" height="2.4" fill="#747474"/>
<rect x="137.6" y="413.2" width="21.2" height="1.8" fill="#a2a2a2"/>
<rect x="135" y="430" width="24.6" height="4.6" rx="2.3" stroke="#a8a8a8" stroke-width="1"/>
</g>
<g transform="translate(111.2,-1)" fill="none" stroke-linejoin="round">
<path d="M125 342 Q125 337.4 130 336.8 Q147 334.6 164.6 336.8 Q169 337.4 169 342 V433 Q169 437.8 164 437.8 H130 Q125 437.8 125 433 Z" stroke="#a6a6a6" stroke-width="1.3" fill="#fff"/>
<path d="M128 341 V434 M166 341 V434" stroke="#b5b5b5" stroke-width="1"/>
<path d="M169 338 L170.6 339.4 V344" stroke="#aaa" stroke-width="0.9"/>
<path d="M133.6 352 Q133.6 346.6 139 346.6 H157.4 Q162.8 346.6 162.8 352 V421 Q162.8 426 157.8 426 H138.6 Q133.6 426 133.6 421 Z" stroke="#8d8d8d" stroke-width="1.5"/>
<path d="M135.6 350 V423 M160.8 350 V423" stroke="#ababab" stroke-width="2.2"/>
<circle cx="147.2" cy="352.2" r="1.9" fill="#2e2e2e"/>
<circle cx="147.2" cy="420.8" r="1.9" fill="#2e2e2e"/>
<rect x="139.6" y="356.8" width="17.2" height="3.2" fill="#6a6a6a"/>
<rect x="141.6" y="357.6" width="13" height="1.2" fill="#d5d5d5"/>
<rect x="137" y="361" width="22.4" height="3" fill="#a8a8a8"/>
<rect x="137" y="365.4" width="22.4" height="2.8" fill="#9a9a9a"/>
<path d="M137 370 H159.4" stroke="#b5b5b5" stroke-width="1.2"/>
<path d="M147.2 370.4 V373" stroke="#444" stroke-width="1"/>
<path d="M137 375.4 H159.4" stroke="#c9c9c9" stroke-width="1"/>
<rect x="139.8" y="379.8" width="17" height="4.8" rx="2.2" stroke="#c2c2c2" stroke-width="1" fill="#f3f3f3"/>
<circle cx="150.9" cy="393.2" r="5.3" stroke="#8a8a8a" stroke-width="1.4"/>
<rect x="137" y="406.2" width="22.4" height="2.2" fill="#b8b8b8"/>
<rect x="137.6" y="409.6" width="21.2" height="2.4" fill="#747474"/>
<rect x="137.6" y="413.2" width="21.2" height="1.8" fill="#a2a2a2"/>
<rect x="135" y="430" width="24.6" height="4.6" rx="2.3" stroke="#a8a8a8" stroke-width="1"/>
</g>
<g transform="translate(0,0)" fill="none" stroke-linejoin="miter">
<path d="M144.6 438 V471.2 H116.2 V539.4 H134" stroke="#3a3a3a" stroke-width="1.5"/>
<path d="M151.1 438 V477.6 H122.2 V533.6 H134" stroke="#3a3a3a" stroke-width="1.5"/>
<path d="M151 506.8 H134 V563 H158" stroke="#8c8c8c" stroke-width="1.3"/>
<path d="M151 510.6 H138.8 V558 H158" stroke="#8c8c8c" stroke-width="1.3"/>
<rect x="150.4" y="505.2" width="7.6" height="6.6" fill="#4a4a4a"/>
<path d="M159 502 H176 Q180.8 502.4 180.8 507 V513 Q180.4 517 176.6 517 H160.4 Q158 517 158 514 V503 Z" stroke="#858585" stroke-width="1.2" fill="#fff"/>
<path d="M161 503.2 V510.2 M164 503.2 V510.2 M167.2 503.2 V510.2 M170.4 503.2 V510.2" stroke="#454545" stroke-width="2.3"/>
<rect x="172.4" y="517" width="3.8" height="8.6" stroke="#8f8f8f" stroke-width="1"/>
<path d="M158.4 553.6 Q158.4 552 160 552 H176 Q178 552 178 554 V565 H158.4 Z" stroke="#7c7c7c" stroke-width="1.3" fill="#fff"/>
<path d="M178 555.4 L181.8 558 V566 L178 565" stroke="#8c8c8c" stroke-width="1"/>
<path d="M158 566.4 H181 V569 H158 Z" stroke="#7c7c7c" stroke-width="1" fill="#ddd"/>
<circle cx="169.4" cy="558.8" r="2.7" stroke="#777" stroke-width="1.2"/>
<circle cx="169.4" cy="558.8" r="1" fill="#999"/>
</g>
<g transform="translate(111,-1.8)" fill="none" stroke-linejoin="miter">
<path d="M144.6 438 V471.2 H116.2 V539.4 H134" stroke="#3a3a3a" stroke-width="1.5"/>
<path d="M151.1 438 V477.6 H122.2 V533.6 H134" stroke="#3a3a3a" stroke-width="1.5"/>
<path d="M151 506.8 H134 V563 H158" stroke="#8c8c8c" stroke-width="1.3"/>
<path d="M151 510.6 H138.8 V558 H158" stroke="#8c8c8c" stroke-width="1.3"/>
<rect x="150.4" y="505.2" width="7.6" height="6.6" fill="#4a4a4a"/>
<path d="M159 502 H176 Q180.8 502.4 180.8 507 V513 Q180.4 517 176.6 517 H160.4 Q158 517 158 514 V503 Z" stroke="#858585" stroke-width="1.2" fill="#fff"/>
<path d="M161 503.2 V510.2 M164 503.2 V510.2 M167.2 503.2 V510.2 M170.4 503.2 V510.2" stroke="#454545" stroke-width="2.3"/>
<rect x="172.4" y="517" width="3.8" height="8.6" stroke="#8f8f8f" stroke-width="1"/>
<path d="M158.4 553.6 Q158.4 552 160 552 H176 Q178 552 178 554 V565 H158.4 Z" stroke="#7c7c7c" stroke-width="1.3" fill="#fff"/>
<path d="M178 555.4 L181.8 558 V566 L178 565" stroke="#8c8c8c" stroke-width="1"/>
<path d="M158 566.4 H181 V569 H158 Z" stroke="#7c7c7c" stroke-width="1" fill="#ddd"/>
<circle cx="169.4" cy="558.8" r="2.7" stroke="#777" stroke-width="1.2"/>
<circle cx="169.4" cy="558.8" r="1" fill="#999"/>
</g>
<ellipse cx="85" cy="404.3" rx="32.2" ry="19.1" fill="#141414"/>
<text x="59.9" y="408" font-size="9.5" font-weight="bold" fill="#fff" text-anchor="start" textLength="47.2" lengthAdjust="spacingAndGlyphs">ПАНЕЛЬ 1</text>
<ellipse cx="320.4" cy="411.8" rx="31.9" ry="19" fill="#141414"/>
<text x="295.4" y="414.8" font-size="9.5" font-weight="bold" fill="#fff" text-anchor="start" textLength="47.6" lengthAdjust="spacingAndGlyphs">ПАНЕЛЬ 2</text>
<text x="89" y="584" font-size="11.4" font-weight="normal" fill="#555" text-anchor="start" textLength="124" lengthAdjust="spacingAndGlyphs" stroke="#555" stroke-width="0.4">Параметры коммутации</text>
<text x="89" y="599" font-size="11.4" font-weight="normal" fill="#555" text-anchor="start" textLength="96" lengthAdjust="spacingAndGlyphs" stroke="#555" stroke-width="0.4">нагрузки панели 1:</text>
<text x="89" y="619" font-size="10.2" font-weight="normal" fill="#707070" text-anchor="start" textLength="116" lengthAdjust="spacingAndGlyphs" stroke="#707070" stroke-width="0.25">Напр-ие: до 30В DC/AC</text>
<text x="89" y="632" font-size="10.2" font-weight="normal" fill="#707070" text-anchor="start" textLength="52" lengthAdjust="spacingAndGlyphs" stroke="#707070" stroke-width="0.25">Ток: до 2А</text>
<text x="248" y="583.4" font-size="11.4" font-weight="normal" fill="#444" text-anchor="start" textLength="124.4" lengthAdjust="spacingAndGlyphs" stroke="#444" stroke-width="0.45">Параметры коммутации</text>
<text x="248" y="599" font-size="11.4" font-weight="normal" fill="#444" text-anchor="start" textLength="97" lengthAdjust="spacingAndGlyphs" stroke="#444" stroke-width="0.45">нагрузки панели 2:</text>
<text x="248" y="617.4" font-size="10.2" font-weight="normal" fill="#606060" text-anchor="start" textLength="114.4" lengthAdjust="spacingAndGlyphs" stroke="#606060" stroke-width="0.3">Напр-ие: до 30В DC/AC</text>
<text x="248" y="631" font-size="10.2" font-weight="normal" fill="#606060" text-anchor="start" textLength="51.6" lengthAdjust="spacingAndGlyphs" stroke="#606060" stroke-width="0.3">Ток: до 2А</text>
</svg></body></html>
